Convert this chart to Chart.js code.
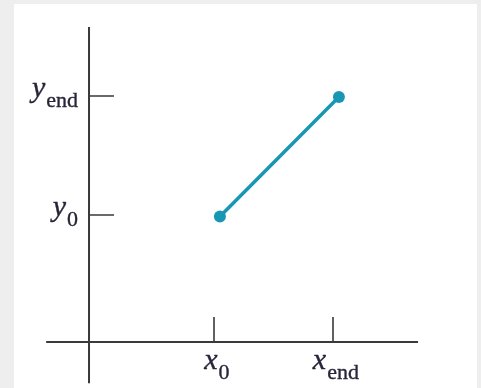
<!DOCTYPE html>
<html>
<head>
<meta charset="utf-8">
<script src="https://cdn.jsdelivr.net/npm/chart.js@4.4.1/dist/chart.umd.min.js"></script>
<style>
  html, body { margin: 0; padding: 0; }
  body { width: 481px; height: 388px; background: #eeeeee; position: relative; overflow: hidden; }
  #panel { position: absolute; left: 14px; top: 4px; width: 463px; height: 384px; background: #ffffff; }
  #wrap { position: absolute; left: 0; top: 0; width: 481px; height: 388px; }
</style>
</head>
<body>
<div id="panel"></div>
<div id="wrap"><canvas id="c" width="481" height="388"></canvas></div>
<script>
// Endpoints of the segment and the symbolic tick labels that name them
const x0 = 2.2, xEnd = 4.2;
const y0 = 2.1, yEnd = 4.1;

const xTickValues = [x0, xEnd];
const xTickSymbols = ['x', 'x'];
const xTickSubscripts = ['0', 'end'];

const yTickValues = [y0, yEnd];
const yTickSymbols = ['y', 'y'];
const yTickSubscripts = ['0', 'end'];

const segmentX = [x0, xEnd];
const segmentY = [y0, yEnd];

// Axis extents (in data units) for the hand-drawn coordinate axes
const xAxisSpan = [-0.72, 5.53];
const yAxisSpan = [-0.69, 5.27];

const INK = '#28253a';
const AXIS = '#3a3a3a';
const LINE = '#1897b4';

function drawSymbol(ctx, main, sub, x, y, align) {
  const mainFont = 'italic 30px "Liberation Serif", "Times New Roman", serif';
  const subFont = '22px "Liberation Serif", "Times New Roman", serif';
  ctx.font = mainFont;
  const wMain = ctx.measureText(main).width;
  ctx.font = subFont;
  const wSub = ctx.measureText(sub).width;
  const total = wMain + 1 + wSub;
  let left = x;
  if (align === 'right') left = x - total;
  else if (align === 'center') left = x - total / 2;
  ctx.fillStyle = INK;
  ctx.strokeStyle = INK;
  ctx.lineWidth = 0.35;
  ctx.textBaseline = 'alphabetic';
  ctx.textAlign = 'left';
  ctx.font = mainFont;
  ctx.fillText(main, left, y);
  ctx.strokeText(main, left, y);
  ctx.font = subFont;
  ctx.fillText(sub, left + wMain + 1, y + 10);
  ctx.strokeText(sub, left + wMain + 1, y + 10);
}

const axesPlugin = {
  id: 'crossedAxes',
  beforeDatasetsDraw(chart) {
    const ctx = chart.ctx;
    const xs = chart.scales.x, ys = chart.scales.y;
    const ox = xs.getPixelForValue(0);
    const oy = ys.getPixelForValue(0);
    ctx.save();
    ctx.strokeStyle = AXIS;
    ctx.lineCap = 'butt';
    // main axes
    ctx.lineWidth = 2;
    ctx.beginPath();
    ctx.moveTo(ox, ys.getPixelForValue(yAxisSpan[1]));
    ctx.lineTo(ox, ys.getPixelForValue(yAxisSpan[0]));
    ctx.moveTo(xs.getPixelForValue(xAxisSpan[0]), oy);
    ctx.lineTo(xs.getPixelForValue(xAxisSpan[1]), oy);
    ctx.stroke();
    // tick marks
    ctx.lineWidth = 1.6;
    ctx.beginPath();
    xTickValues.forEach(v => {
      const px = Math.round(xs.getPixelForValue(v) - 6);
      ctx.moveTo(px, oy);
      ctx.lineTo(px, oy - 25);
    });
    yTickValues.forEach(v => {
      const py = Math.round(ys.getPixelForValue(v) - 1);
      ctx.moveTo(ox, py);
      ctx.lineTo(ox + 25, py);
    });
    ctx.stroke();
    // tick labels
    xTickValues.forEach((v, i) => {
      drawSymbol(ctx, xTickSymbols[i], xTickSubscripts[i], xs.getPixelForValue(v) - 3, oy + 27, 'center');
    });
    yTickValues.forEach((v, i) => {
      drawSymbol(ctx, yTickSymbols[i], yTickSubscripts[i], ox - 11, ys.getPixelForValue(v), 'right');
    });
    ctx.restore();
  }
};

new Chart(document.getElementById('c'), {
  type: 'scatter',
  data: {
    datasets: [{
      data: segmentX.map((x, i) => ({ x: x, y: segmentY[i] })),
      showLine: true,
      borderColor: LINE,
      backgroundColor: LINE,
      borderWidth: 3.5,
      pointRadius: 6,
      pointBorderWidth: 0,
      pointHoverRadius: 6
    }]
  },
  options: {
    responsive: false,
    animation: false,
    events: [],
    layout: { padding: 0, autoPadding: false },
    plugins: { legend: { display: false }, tooltip: { enabled: false } },
    scales: {
      x: { type: 'linear', display: false, min: -1.496, max: 6.588 },
      y: { type: 'linear', display: false, min: -0.771, max: 5.723 }
    }
  },
  plugins: [axesPlugin]
});
</script>
</body>
</html>
